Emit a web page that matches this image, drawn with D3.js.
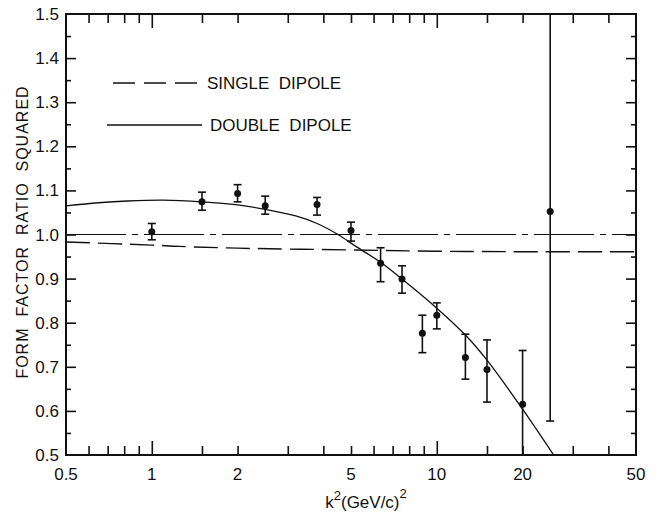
<!DOCTYPE html>
<html>
<head>
<meta charset="utf-8">
<script src="https://cdn.jsdelivr.net/npm/d3@7"></script>
<style>
  body { margin: 0; background: #fff; }
  svg { display: block; }
  text { font-family: 'Liberation Sans', Arial, sans-serif; fill: #111; white-space: pre; }
</style>
</head>
<body>
<svg></svg>
<script>
const width = 664;
const height = 516;
const plot = {left: 66, right: 636, top: 14, bottom: 455};

// measured points
const kSq = [1.0, 1.5, 2.0, 2.5, 3.8, 5.0, 6.35, 7.55, 8.9, 10.0, 12.6, 15.0, 20.0, 25.0];
const ratio = [1.006, 1.074, 1.093, 1.065, 1.068, 1.009, 0.935, 0.899, 0.776, 0.817, 0.721, 0.694, 0.615, 1.052];
const errHigh = [1.025, 1.096, 1.113, 1.087, 1.084, 1.028, 0.970, 0.929, 0.817, 0.845, 0.774, 0.761, 0.737, 1.5];
const errLow = [0.988, 1.055, 1.074, 1.046, 1.044, 0.985, 0.893, 0.867, 0.732, 0.786, 0.672, 0.620, 0.5, 0.577];

// fitted curves
const doubleK = [0.5, 0.65, 0.82, 1.1, 1.5, 2.0, 2.5, 3.2, 3.8, 4.5, 5.2, 6.35, 7.55, 10, 12.6, 15, 20, 25.7];
const doubleR = [1.065, 1.072, 1.076, 1.078, 1.074, 1.067, 1.057, 1.042, 1.025, 1.0, 0.973, 0.937, 0.899, 0.833, 0.772, 0.715, 0.604, 0.5];
const singleK = [0.5, 1.0, 1.25, 2.0, 5.0, 10, 20, 50];
const singleR = [0.983, 0.976, 0.973, 0.969, 0.965, 0.962, 0.961, 0.961];
const unityK = [0.5, 50];
const unityR = [1.0, 1.0];

// ticks
const xMinorTicks = [0.6, 0.7, 0.8, 0.9, 1.5, 2, 3, 4, 5, 6, 7, 8, 9, 15, 20, 30, 40];
const xMajorTicks = [1, 10];
const xLabels = [0.5, 1, 2, 5, 10, 20, 50];
const yMajorTicks = [0.6, 0.7, 0.8, 0.9, 1.0, 1.1, 1.2, 1.3, 1.4];
const yMinorTicks = [0.55, 0.65, 0.75, 0.85, 0.95, 1.05, 1.15, 1.25, 1.35, 1.45];
const yLabels = [0.5, 0.6, 0.7, 0.8, 0.9, 1.0, 1.1, 1.2, 1.3, 1.4, 1.5];

const svg = d3.select('svg').attr('width', width).attr('height', height);

const x = d3.scaleLog().domain([0.5, 50]).range([plot.left, plot.right]);
const y = d3.scaleLinear().domain([0.5, 1.5]).range([plot.bottom, plot.top]);

// frame
svg.append('rect')
    .attr('x', plot.left).attr('y', plot.top)
    .attr('width', plot.right - plot.left).attr('height', plot.bottom - plot.top)
    .attr('fill', 'none').attr('stroke', '#111').attr('stroke-width', 2);

function tickAxis(axis, pos, values, size) {
    svg.append('g').attr('transform', pos)
        .call(axis.tickValues(values).tickSize(size).tickFormat(''))
        .call(g => g.select('.domain').remove())
        .call(g => g.selectAll('line').attr('stroke', '#111').attr('stroke-width', 1.6));
}

tickAxis(d3.axisBottom(x), `translate(0,${plot.bottom})`, xMinorTicks, -9);
tickAxis(d3.axisBottom(x), `translate(0,${plot.bottom})`, xMajorTicks, -14);
tickAxis(d3.axisTop(x), `translate(0,${plot.top})`, xMinorTicks, -9);
tickAxis(d3.axisTop(x), `translate(0,${plot.top})`, xMajorTicks, -14);
tickAxis(d3.axisLeft(y), `translate(${plot.left},0)`, yMajorTicks, -10);
tickAxis(d3.axisLeft(y), `translate(${plot.left},0)`, yMinorTicks, -5);
tickAxis(d3.axisRight(y), `translate(${plot.right},0)`, yMajorTicks, -10);
tickAxis(d3.axisRight(y), `translate(${plot.right},0)`, yMinorTicks, -5);

// tick labels
svg.append('g').selectAll('text').data(xLabels).enter().append('text')
    .attr('x', d => x(d))
    .attr('y', plot.bottom + 25)
    .attr('text-anchor', 'middle')
    .attr('font-size', 17)
    .text(d => d);

svg.append('g').selectAll('text').data(yLabels).enter().append('text')
    .attr('x', plot.left - 7)
    .attr('y', d => y(d) + 6)
    .attr('text-anchor', 'end')
    .attr('font-size', 17)
    .text(d => d3.format('.1f')(d));

// axis titles
svg.append('text')
    .attr('transform', `translate(28, 232) rotate(-90)`)
    .attr('text-anchor', 'middle')
    .attr('font-size', 16)
    .attr('letter-spacing', 1)
    .text('FORM  FACTOR  RATIO  SQUARED');

const xt = svg.append('text')
    .attr('x', 366).attr('y', 508)
    .attr('text-anchor', 'middle')
    .attr('font-size', 17);
xt.append('tspan').text('k');
xt.append('tspan').attr('dy', -8).attr('font-size', 13).text('2');
xt.append('tspan').attr('dy', 8).text('(GeV/c)');
xt.append('tspan').attr('dy', -10).attr('font-size', 13).text('2');

// curves
const line = d3.line()
    .x(d => x(d[0]))
    .y(d => y(d[1]))
    .curve(d3.curveCatmullRom.alpha(0.5));

svg.append('clipPath').attr('id', 'clip').append('rect')
    .attr('x', plot.left).attr('y', plot.top)
    .attr('width', plot.right - plot.left).attr('height', plot.bottom - plot.top);

const curves = svg.append('g').attr('clip-path', 'url(#clip)');

curves.append('path')
    .datum(d3.zip(unityK, unityR))
    .attr('d', line)
    .attr('fill', 'none').attr('stroke', '#111').attr('stroke-width', 1.2)
    .attr('stroke-dasharray', '60,6,6,6');

curves.append('path')
    .datum(d3.zip(singleK, singleR))
    .attr('d', line)
    .attr('fill', 'none').attr('stroke', '#111').attr('stroke-width', 1.4)
    .attr('stroke-dasharray', '24,8');

curves.append('path')
    .datum(d3.zip(doubleK, doubleR))
    .attr('d', line)
    .attr('fill', 'none').attr('stroke', '#111').attr('stroke-width', 1.3);

// error bars and points
const pts = svg.append('g').selectAll('g')
    .data(kSq.map((k, i) => ({k: k, r: ratio[i], hi: errHigh[i], lo: errLow[i]})))
    .enter().append('g');

pts.append('line')
    .attr('x1', d => x(d.k)).attr('x2', d => x(d.k))
    .attr('y1', d => y(d.hi)).attr('y2', d => y(d.lo))
    .attr('stroke', '#111').attr('stroke-width', 1.6);

pts.filter(d => d.hi < 1.5).append('line')
    .attr('x1', d => x(d.k) - 4).attr('x2', d => x(d.k) + 4)
    .attr('y1', d => y(d.hi)).attr('y2', d => y(d.hi))
    .attr('stroke', '#111').attr('stroke-width', 1.6);

pts.filter(d => d.lo > 0.5).append('line')
    .attr('x1', d => x(d.k) - 4).attr('x2', d => x(d.k) + 4)
    .attr('y1', d => y(d.lo)).attr('y2', d => y(d.lo))
    .attr('stroke', '#111').attr('stroke-width', 1.6);

pts.append('circle')
    .attr('cx', d => x(d.k)).attr('cy', d => y(d.r))
    .attr('r', 3.5)
    .attr('fill', '#111');

// legend
const legend = svg.append('g').attr('font-size', 17);
legend.append('line')
    .attr('x1', 113).attr('x2', 198).attr('y1', 83).attr('y2', 83)
    .attr('stroke', '#111').attr('stroke-width', 1.4)
    .attr('stroke-dasharray', '22,9');
legend.append('text').attr('x', 207).attr('y', 89).text('SINGLE  DIPOLE');
legend.append('line')
    .attr('x1', 107).attr('x2', 202).attr('y1', 125).attr('y2', 125)
    .attr('stroke', '#111').attr('stroke-width', 1.3);
legend.append('text').attr('x', 210).attr('y', 131).text('DOUBLE  DIPOLE');
</script>
</body>
</html>
